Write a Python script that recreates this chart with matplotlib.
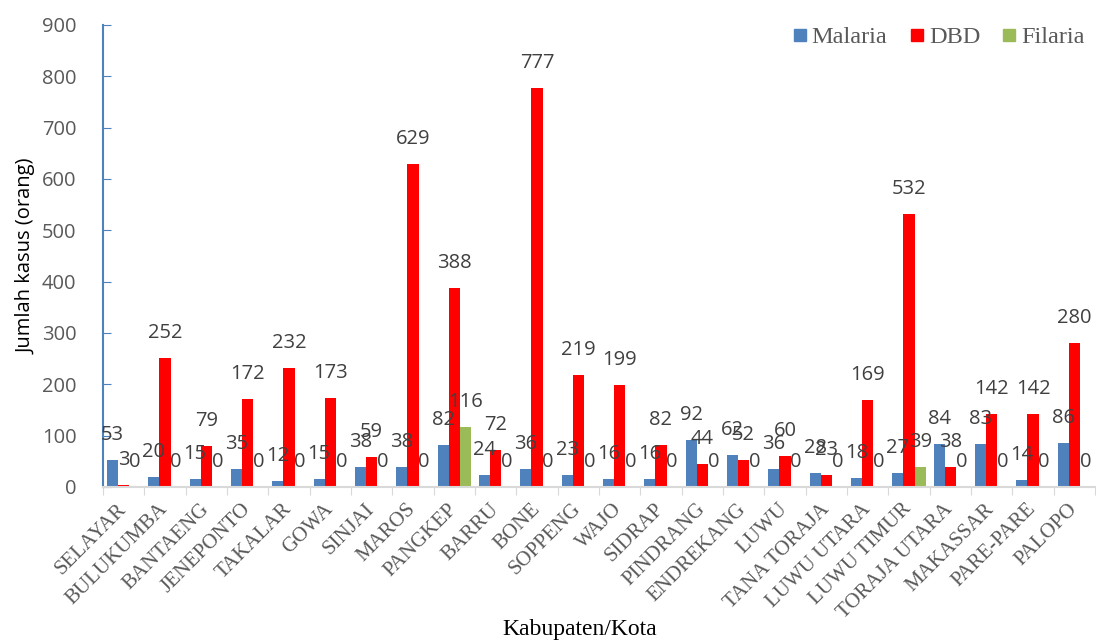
import numpy as np
import matplotlib
matplotlib.use('Agg')
import matplotlib.pyplot as plt
from matplotlib.lines import Line2D

# data
kabupaten = [
    'SELAYAR', 'BULUKUMBA', 'BANTAENG', 'JENEPONTO', 'TAKALAR', 'GOWA',
    'SINJAI', 'MAROS', 'PANGKEP', 'BARRU', 'BONE', 'SOPPENG', 'WAJO',
    'SIDRAP', 'PINDRANG', 'ENDREKANG', 'LUWU', 'TANA TORAJA', 'LUWU UTARA',
    'LUWU TIMUR', 'TORAJA UTARA', 'MAKASSAR', 'PARE-PARE', 'PALOPO',
]
malaria = [53, 20, 15, 35, 12, 15, 38, 38, 82, 24, 36, 23, 16, 16, 92, 62,
           36, 28, 18, 27, 84, 83, 14, 86]
dbd = [3, 252, 79, 172, 232, 173, 59, 629, 388, 72, 777, 219, 199, 82, 44,
       52, 60, 23, 169, 532, 38, 142, 142, 280]
filaria = [0, 0, 0, 0, 0, 0, 0, 0, 116, 0, 0, 0, 0, 0, 0, 0, 0, 0, 0, 39,
           0, 0, 0, 0]
y_ticks = [0, 100, 200, 300, 400, 500, 600, 700, 800, 900]

series = [
    ('Malaria', malaria, '#4F81BD'),
    ('DBD', dbd, '#FF0000'),
    ('Filaria', filaria, '#9BBB59'),
]

SANS = 'Open Sans'
SERIF = 'Liberation Serif'
GRAY = '#595959'

fig = plt.figure(figsize=(10.96, 6.4), dpi=100)
ax = fig.add_axes([103 / 1096, 153 / 640, 992 / 1096, 462 / 640])

x = np.arange(len(kabupaten))
bar_width = 0.27
offsets = [-bar_width, 0, bar_width]

for (name, values, color), off in zip(series, offsets):
    bars = ax.bar(x + off, values, width=bar_width, color=color,
                  label=name, zorder=2)
    # value labels sit a fixed distance above each bar
    for bar, v in zip(bars, values):
        ax.annotate(
            str(v),
            xy=(bar.get_x() + bar.get_width() / 2, bar.get_height()),
            xytext=(0, 25), textcoords='offset pixels',
            ha='center', va='center',
            fontsize=14.5, family=SANS, color='#404040', zorder=3,
        )

ax.set_xlim(-0.5, len(kabupaten) - 0.5)
ax.set_ylim(0, 900)
ax.set_yticks(y_ticks)
ax.set_yticklabels([str(t) for t in y_ticks], family=SANS, fontsize=14.5,
                   color=GRAY)

# category ticks between groups, labels at group centres
ax.set_xticks(np.arange(len(kabupaten) + 1) - 0.5, minor=False)
ax.set_xticklabels([])
ax.set_xticks(x, minor=True)
ax.set_xticklabels(kabupaten, minor=True, rotation=45, ha='right',
                   va='center', rotation_mode='anchor', family=SERIF,
                   fontsize=15, color=GRAY)
ax.tick_params(axis='x', which='minor', length=0, pad=14)
ax.tick_params(axis='x', which='major', length=6, color='#D9D9D9',
               direction='out')
ax.tick_params(axis='y', length=6, color='#4F81BD', direction='in', pad=19)

for side in ('top', 'right'):
    ax.spines[side].set_visible(False)
ax.spines['left'].set_color('#4F81BD')
ax.spines['left'].set_linewidth(1.5)
ax.spines['bottom'].set_color('#D9D9D9')
ax.spines['bottom'].set_linewidth(1.5)

ax.set_ylabel('Jumlah kasus (orang)', family=SANS, fontsize=14.5,
              color='black', labelpad=4)
fig.text(580 / 1096, 0.5 / 640, 'Kabupaten/Kota', family=SERIF, fontsize=17,
         color='black', ha='center', va='bottom')

handles = [Line2D([], [], marker='s', linestyle='none', markersize=9,
                  markerfacecolor=c, markeredgecolor=c) for _, _, c in series]
leg = ax.legend(handles, [n for n, _, _ in series], loc='upper right',
                bbox_to_anchor=(1.012, 1.045), ncol=3, frameon=False,
                prop={'family': SERIF, 'size': 17.5}, handletextpad=0.0,
                columnspacing=0.7, handlelength=1.0)
for t in leg.get_texts():
    t.set_color(GRAY)

fig.savefig('out.png', dpi=100)
